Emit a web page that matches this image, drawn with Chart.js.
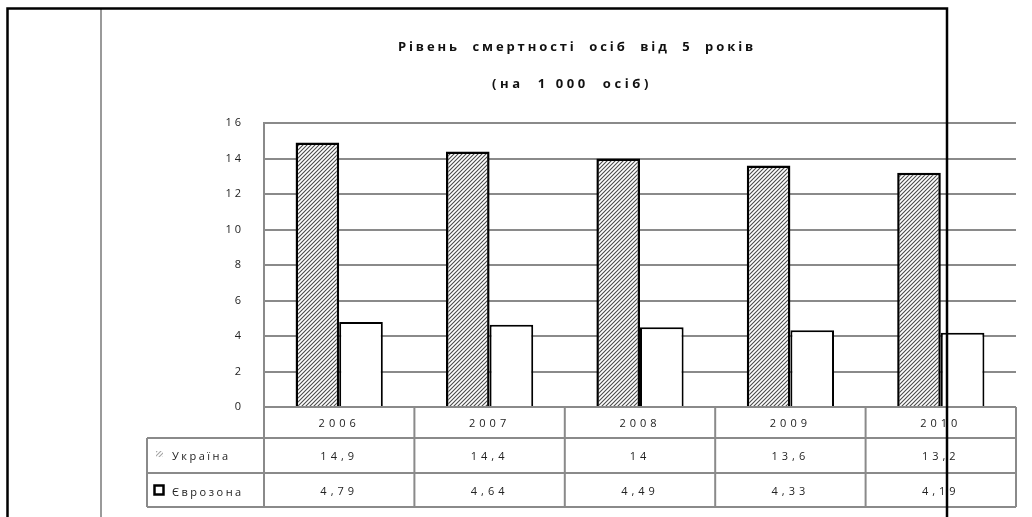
<!DOCTYPE html>
<html>
<head>
<meta charset="utf-8">
<script src="https://cdn.jsdelivr.net/npm/chart.js@4/dist/chart.umd.min.js"></script>
<style>
html,body{margin:0;padding:0;background:#fff;}
#wrap{position:relative;width:1032px;height:517px;}
</style>
</head>
<body>
<div id="wrap"><canvas id="c" width="1032" height="517"></canvas></div>
<script>
const titleLines = ["Рівень  смертності  осіб  від  5  років", "(на  1 000  осіб)"];
const categories = ["2006", "2007", "2008", "2009", "2010"];
const seriesNames = ["Україна", "Єврозона"];
const ukraine = [14.9, 14.4, 14, 13.6, 13.2];
const eurozone = [4.79, 4.64, 4.49, 4.33, 4.19];
const yTicks = [0, 2, 4, 6, 8, 10, 12, 14, 16];

function fmt(v){ return String(v).replace('.', ','); }

function hatch(){
  const t = document.createElement('canvas');
  t.width = 4; t.height = 4;
  const g = t.getContext('2d');
  g.fillStyle = '#fff'; g.fillRect(0,0,4,4);
  g.strokeStyle = '#4a4a4a'; g.lineWidth = 1.1;
  g.beginPath();
  g.moveTo(-1,5); g.lineTo(5,-1);
  g.moveTo(-1,1); g.lineTo(1,-1);
  g.moveTo(3,5); g.lineTo(5,3);
  g.stroke();
  return g.createPattern(t, 'repeat');
}
const ctx0 = document.getElementById('c').getContext('2d');
const hatchPat = hatch();

function spacedText(ctx, text, x, y, spacing){
  ctx.letterSpacing = spacing + 'px';
  ctx.fillText(text, x, y);
  ctx.letterSpacing = '0px';
}

const decor = {
  id: 'decor',
  beforeDraw(chart){
    const ctx = chart.ctx;
    ctx.save();
    ctx.fillStyle = '#fff';
    ctx.fillRect(0,0,chart.width,chart.height);
    // title
    ctx.fillStyle = '#111';
    ctx.font = 'bold 13px "Open Sans", "DejaVu Sans", sans-serif';
    ctx.textAlign = 'center';
    ctx.textBaseline = 'middle';
    spacedText(ctx, titleLines[0], 577, 47, 2.9);
    spacedText(ctx, titleLines[1], 572, 84, 3.6);
    ctx.restore();
  },
  afterDraw(chart){
    const ctx = chart.ctx;
    const area = chart.chartArea;
    const xs = chart.scales.x;
    const n = categories.length;
    const half = (area.right - area.left) / n / 2;
    const cols = [];
    for (let i = 0; i < n; i++) cols.push(xs.getPixelForValue(i) - half);
    cols.push(area.right);
    const r0 = area.bottom, r1 = 438, r2 = 473, r3 = 507;
    const legL = 147;
    ctx.save();
    ctx.strokeStyle = '#8a8a8a';
    ctx.lineWidth = 2;
    ctx.beginPath();
    ctx.moveTo(area.left, r0); ctx.lineTo(area.right, r0);
    ctx.moveTo(legL, r1); ctx.lineTo(area.right, r1);
    ctx.moveTo(legL, r2); ctx.lineTo(area.right, r2);
    ctx.moveTo(legL, r3); ctx.lineTo(area.right, r3);
    ctx.moveTo(area.left, area.top); ctx.lineTo(area.left, r3);
    for (let i = 1; i < cols.length; i++){ ctx.moveTo(cols[i], r0); ctx.lineTo(cols[i], r3); }
    ctx.moveTo(legL, r1); ctx.lineTo(legL, r3);
    ctx.stroke();

    ctx.fillStyle = '#222';
    ctx.font = '11px "Open Sans", "DejaVu Sans", sans-serif';
    ctx.textAlign = 'center';
    ctx.textBaseline = 'middle';
    for (let i = 0; i < n; i++){
      const cx = (cols[i] + cols[i+1]) / 2;
      spacedText(ctx, categories[i], cx, (r0 + r1)/2 + 1, 4);
      spacedText(ctx, fmt(ukraine[i]), cx, (r1 + r2)/2 + 1, 4);
      spacedText(ctx, fmt(eurozone[i]), cx, (r2 + r3)/2 + 2, 4);
    }
    ctx.textAlign = 'left';
    spacedText(ctx, seriesNames[0], 172, (r1 + r2)/2 + 1, 2.5);
    spacedText(ctx, seriesNames[1], 172, (r2 + r3)/2 + 3, 2.5);
    ctx.fillStyle = hatchPat;
    ctx.fillRect(156, 451, 7, 6);
    ctx.fillStyle = 'rgba(255,255,255,0.5)';
    ctx.fillRect(156, 451, 7, 6);
    ctx.strokeStyle = '#000';
    ctx.lineWidth = 2.5;
    ctx.strokeRect(154.5, 485.5, 9, 9);

    ctx.strokeStyle = '#9a9a9a';
    ctx.lineWidth = 2;
    ctx.beginPath(); ctx.moveTo(101, 9); ctx.lineTo(101, 517); ctx.stroke();
    ctx.strokeStyle = '#000';
    ctx.lineWidth = 2.5;
    ctx.beginPath();
    ctx.moveTo(7.5, 517); ctx.lineTo(7.5, 8.5); ctx.lineTo(947, 8.5); ctx.lineTo(947, 517);
    ctx.stroke();
    ctx.restore();
  }
};

new Chart(ctx0, {
  type: 'bar',
  data: {
    labels: categories,
    datasets: [
      { label: seriesNames[0], data: ukraine, backgroundColor: hatchPat, borderColor: '#000', borderWidth: 2.5, borderSkipped: 'start' },
      { label: seriesNames[1], data: eurozone, backgroundColor: '#fff', borderColor: '#000', borderWidth: 2, borderSkipped: 'start' }
    ]
  },
  plugins: [decor],
  options: {
    responsive: false,
    animation: false,
    events: [],
    layout: { padding: { left: 200, right: 16, top: 123, bottom: 110 } },
    datasets: { bar: { categoryPercentage: 0.58, barPercentage: 1 } },
    plugins: { legend: { display: false }, title: { display: false }, tooltip: { enabled: false } },
    scales: {
      x: { display: false, offset: true },
      y: {
        min: 0, max: 16,
        afterFit(s){ s.width = 64; },
        afterBuildTicks(s){ s.ticks = yTicks.map(v => ({ value: v })); },
        ticks: {
          padding: 23,
          color: '#222',
          font: { family: '"Open Sans", "DejaVu Sans", sans-serif', size: 11 },
          callback: v => String(v).split('').join(' ')
        },
        grid: { color: '#8a8a8a', lineWidth: 2, drawTicks: false },
        border: { display: true, color: '#8a8a8a', width: 2 }
      }
    }
  }
});
</script>
</body>
</html>
